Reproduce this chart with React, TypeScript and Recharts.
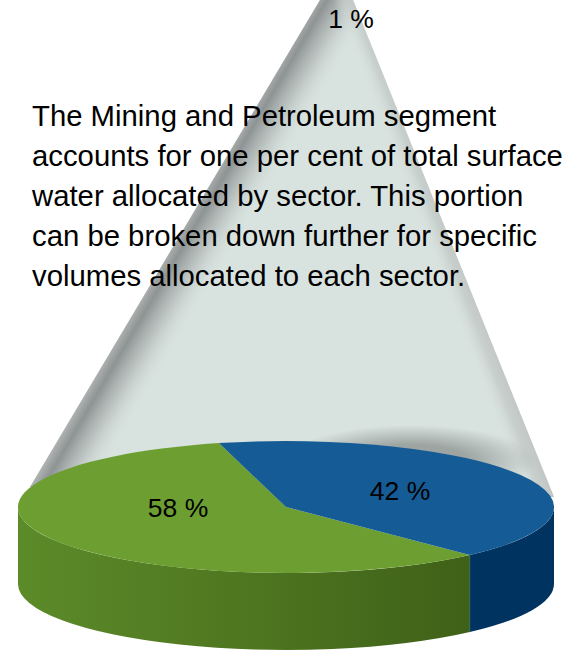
import { Pie, PieChart } from "recharts";

const sliceValues = [58, 42];
const sliceColors = ["#6d9e31", "#155c96"];
const sideFills = ["url(#greenSide)", "#00335f"];
const miningShare = 1;
const noteLines = [
  "The Mining and Petroleum segment",
  "accounts for one per cent of total surface",
  "water allocated by sector. This portion",
  "can be broken down further for specific",
  "volumes allocated to each sector.",
];

const pieData = sliceValues.map((value, i) => ({ value, fill: sliceColors[i] }));

const WIDTH = 564;
const HEIGHT = 655;
const CX = 286;
const CY = 507;
const RX = 268;
const RY = 66;
const DEPTH = 77;
const FONT = "'Liberation Sans', Arial, sans-serif";

// label anchors relative to the pie centre, one per slice
const labelShift = [
  { x: -108, y: 1 },
  { x: 114, y: -16 },
];

const rad = Math.PI / 180;
const rimX = (angle: number) => CX + RX * Math.cos(angle * rad);
const rimY = (angle: number) => CY - RY * Math.sin(angle * rad);

// squashes a circular sector into the tilted disc, with its wall on the near half
function DiscSlice(props: any) {
  const { startAngle, endAngle, fill, index } = props;
  const large = endAngle - startAngle > 180 ? 1 : 0;
  const top = `M${CX} ${CY}L${rimX(startAngle)} ${rimY(startAngle)}A${RX} ${RY} 0 ${large} 0 ${rimX(endAngle)} ${rimY(endAngle)}Z`;
  const from = Math.max(startAngle, 180);
  const to = Math.min(endAngle, 360);
  const wall =
    `M${rimX(from)} ${rimY(from)}A${RX} ${RY} 0 0 0 ${rimX(to)} ${rimY(to)}` +
    `L${rimX(to)} ${rimY(to) + DEPTH}A${RX} ${RY} 0 0 1 ${rimX(from)} ${rimY(from) + DEPTH}Z`;
  return (
    <g>
      <path d={wall} fill={sideFills[index]} />
      {index === 1 && (
        <line
          x1={rimX(from)}
          y1={rimY(from)}
          x2={rimX(from)}
          y2={rimY(from) + DEPTH}
          stroke="#2c6a62"
          strokeWidth={1}
        />
      )}
      <path d={top} fill={fill} />
    </g>
  );
}

function sliceLabel(props: any) {
  const { index, value } = props;
  return (
    <text
      x={CX + labelShift[index].x}
      y={CY + labelShift[index].y}
      textAnchor="middle"
      dominantBaseline="central"
      fontFamily={FONT}
      fontSize={26.5}
      fill="#000"
    >
      {`${value} %`}
    </text>
  );
}

export default function App() {
  const conePoints = `30,487 320,0 353,0 554,497 ${CX},${CY}`;
  return (
    <div style={{ position: "absolute", left: 0, top: 0 }}>
      <PieChart width={WIDTH} height={HEIGHT} margin={{ top: 0, right: 0, bottom: 0, left: 0 }}>
        <defs>
          <linearGradient id="greenSide" gradientUnits="userSpaceOnUse" x1={18} y1={0} x2={468} y2={0}>
            <stop offset="0" stopColor="#5c8b29" />
            <stop offset="0.45" stopColor="#507821" />
            <stop offset="1" stopColor="#3f6118" />
          </linearGradient>
          <linearGradient id="coneLeft" gradientUnits="userSpaceOnUse" x1={30} y1={487} x2={78} y2={515}>
            <stop offset="0" stopColor="#b0b4b3" />
            <stop offset="0.2" stopColor="#8e9393" />
            <stop offset="0.55" stopColor="#b4bcba" stopOpacity={0.75} />
            <stop offset="1" stopColor="#d8e2df" stopOpacity={0} />
          </linearGradient>
          <linearGradient id="coneRight" gradientUnits="userSpaceOnUse" x1={554} y1={497} x2={528} y2={507}>
            <stop offset="0" stopColor="#c0c6c3" />
            <stop offset="0.4" stopColor="#c3cac7" stopOpacity={0.8} />
            <stop offset="1" stopColor="#d8e2df" stopOpacity={0} />
          </linearGradient>
          <radialGradient id="discShadow">
            <stop offset="0.45" stopColor="#767c7a" stopOpacity={0.6} />
            <stop offset="1" stopColor="#767c7a" stopOpacity={0} />
          </radialGradient>
        </defs>

        <polygon points={conePoints} fill="#d8e2df" />
        <polygon points={conePoints} fill="url(#coneLeft)" />
        <polygon points={conePoints} fill="url(#coneRight)" />
        <ellipse cx={CX + 125} cy={CY - 46} rx={125} ry={36} fill="url(#discShadow)" />

        {noteLines.map((line, i) => (
          <text key={line} x={32} y={126 + i * 40} fontFamily={FONT} fontSize={29.3} fill="#000">
            {line}
          </text>
        ))}
        <text x={351} y={28} textAnchor="middle" fontFamily={FONT} fontSize={26.5} fill="#000">
          {`${miningShare} %`}
        </text>

        <Pie
          data={pieData}
          dataKey="value"
          cx={CX}
          cy={CY}
          outerRadius={RX}
          startAngle={104.5}
          endAngle={464.5}
          stroke="none"
          shape={DiscSlice}
          label={sliceLabel}
          labelLine={false}
          isAnimationActive={false}
        />
      </PieChart>
    </div>
  );
}
